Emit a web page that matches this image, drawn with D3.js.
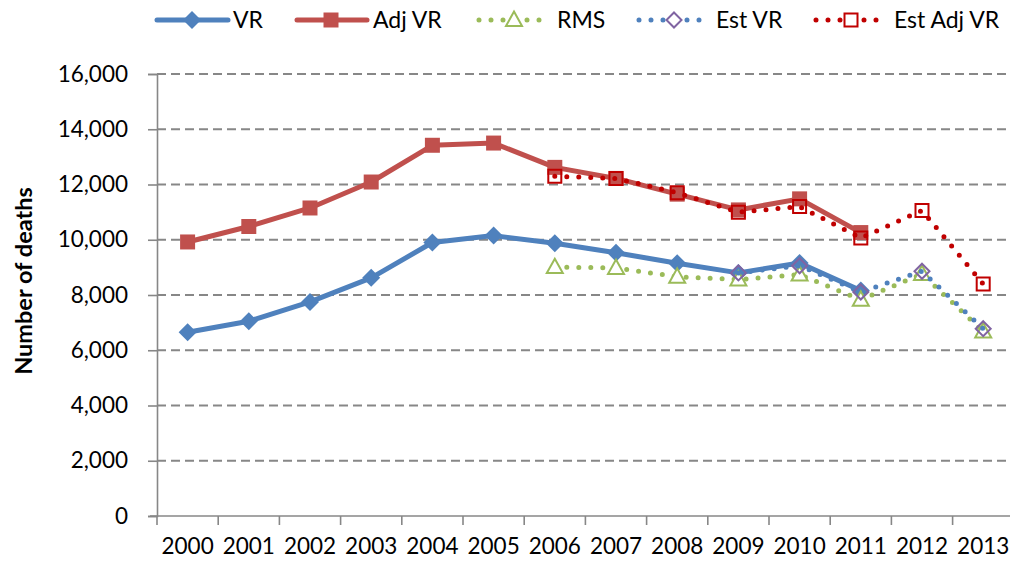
<!DOCTYPE html>
<html><head><meta charset="utf-8">
<script src="https://cdn.jsdelivr.net/npm/d3@7"></script>
<style>body{margin:0;background:#fff}svg{display:block;font-family:Lato,"Open Sans",sans-serif}</style>
</head><body>
<svg id="c" width="1010" height="563"></svg>
<script>
const years = ["2000","2001","2002","2003","2004","2005","2006","2007","2008","2009","2010","2011","2012","2013"];
const vr    = [6650,7050,7750,8620,9900,10150,9870,9530,9150,8800,9160,8160,null,null];
const adjVr = [9920,10480,11150,12090,13420,13500,12620,12220,11650,11080,11480,10260,null,null];
const rms   = [null,null,null,null,null,null,9010,8980,8660,8560,8740,7830,8760,6680];
const estVr = [null,null,null,null,null,null,null,null,null,8800,9060,8110,8860,6780];
const estAdj= [null,null,null,null,null,null,12300,12220,11700,11000,11200,10060,11060,8400];
const yTicks = [0,2000,4000,6000,8000,10000,12000,14000,16000];

const svg = d3.select("#c");
const x = d3.scaleBand().domain(years).range([157, 157+14*61.2]);
const y = d3.scaleLinear().domain([0,16000]).range([516,74]);
const cx = d => x(d) + x.bandwidth()/2;

// gridlines
svg.append("g").selectAll("line").data(yTicks.filter(t=>t>0)).join("line")
  .attr("x1",157).attr("x2",1010).attr("y1",d=>y(d)).attr("y2",d=>y(d))
  .attr("stroke","#878787").attr("stroke-width",1.8).attr("stroke-dasharray","9,5");

// y axis
const ya = svg.append("g").attr("transform","translate(157,0)")
  .call(d3.axisLeft(y).tickValues(yTicks).tickFormat(d3.format(",")).tickSize(9).tickPadding(20));
ya.select(".domain").attr("stroke","#878787").attr("stroke-width",1.6);
ya.selectAll(".tick line").attr("stroke","#878787").attr("stroke-width",1.6);
ya.selectAll("text").attr("font-size",22.5).attr("fill","#000").attr("font-family","Lato");

// x axis
const xa = svg.append("g").attr("transform","translate(0,516)")
  .call(d3.axisBottom(x).tickSize(0).tickPadding(22));
xa.select(".domain").remove();
xa.selectAll("text").attr("font-size",22.5).attr("fill","#000").attr("font-family","Lato");
svg.append("line").attr("x1",150).attr("x2",1010).attr("y1",516).attr("y2",516)
  .attr("stroke","#878787").attr("stroke-width",1.6);
svg.append("g").selectAll("line").data(d3.range(15)).join("line")
  .attr("x1",d=>157+d*x.step()).attr("x2",d=>157+d*x.step()).attr("y1",516).attr("y2",525)
  .attr("stroke","#878787").attr("stroke-width",1.6);

// y title
svg.append("text").attr("transform","translate(32,281) rotate(-90)").attr("text-anchor","middle")
  .attr("font-size",23.5).attr("font-weight","bold").attr("font-family","Lato").text("Number of deaths");

const line = d3.line().defined(d=>d.v!=null).x(d=>cx(d.k)).y(d=>y(d.v));
const pts = arr => years.map((k,i)=>({k,v:arr[i]}));

const sym = {
  diamond: (s)=>`M0,${-s}L${s},0L0,${s}L${-s},0Z`,
  square: (s)=>`M${-s},${-s}H${s}V${s}H${-s}Z`,
  tri: (s)=>`M0,${-s*1.05}L${s},${s*0.75}L${-s},${s*0.75}Z`
};

const series = [
  {name:"VR", data:vr, color:"#4F81BD", width:5, dash:null, mk:"diamond", ms:9, fill:"#4F81BD", ms_stroke:"#4F81BD", msw:0},
  {name:"Adj VR", data:adjVr, color:"#C0504D", width:5, dash:null, mk:"square", ms:7.5, fill:"#C0504D", ms_stroke:"#C0504D", msw:0},
  {name:"RMS", data:rms, color:"#9BBB59", width:5, dash:"0,12", mk:"tri", ms:8, fill:"#fff", ms_stroke:"#9BBB59", msw:2},
  {name:"Est VR", data:estVr, color:"#4F81BD", width:5, dash:"0,12", mk:"diamond", ms:7.5, fill:"none", ms_stroke:"#8064A2", msw:2},
  {name:"Est Adj VR", data:estAdj, color:"#C00000", width:5, dash:"0,12", mk:"square", ms:6.5, fill:"none", ms_stroke:"#C00000", msw:2}
];

series.forEach(s=>{
  const p = svg.append("path").datum(pts(s.data)).attr("d",line).attr("fill","none")
    .attr("stroke",s.color).attr("stroke-width",s.width).attr("stroke-linejoin","round")
    .attr("stroke-linecap","round");
  if(s.dash) p.attr("stroke-dasharray",s.dash);
  svg.append("g").selectAll("path").data(pts(s.data).filter(d=>d.v!=null)).join("path")
    .attr("transform",d=>`translate(${cx(d.k)},${y(d.v)})`).attr("d",sym[s.mk](s.ms))
    .attr("fill",s.fill).attr("stroke",s.ms_stroke).attr("stroke-width",s.msw);
});

// legend
const leg = [
  {x0:157,x1:228,mx:192,tx:233},
  {x0:297,x1:367,mx:331,tx:373},
  {x0:479,x1:545,mx:514,tx:557},
  {x0:639,x1:705,mx:674,tx:716},
  {x0:816,x1:885,mx:851,tx:894}
];
const lg = svg.append("g");
series.forEach((s,i)=>{
  const L = leg[i], ly = 20;
  const l = lg.append("line").attr("x1",L.x0).attr("x2",L.x1).attr("y1",ly).attr("y2",ly)
    .attr("stroke",s.color).attr("stroke-width",s.width).attr("stroke-linecap","round");
  if(s.dash) l.attr("stroke-dasharray",s.dash);
  lg.append("path").attr("transform",`translate(${L.mx},${ly})`).attr("d",sym[s.mk](s.ms))
    .attr("fill",s.fill==="none"?"#fff":s.fill).attr("stroke",s.ms_stroke).attr("stroke-width",s.msw);
  lg.append("text").attr("x",L.tx).attr("y",ly+8).attr("font-size",23).attr("font-family","Lato").text(s.name);
});
</script>
</body></html>
